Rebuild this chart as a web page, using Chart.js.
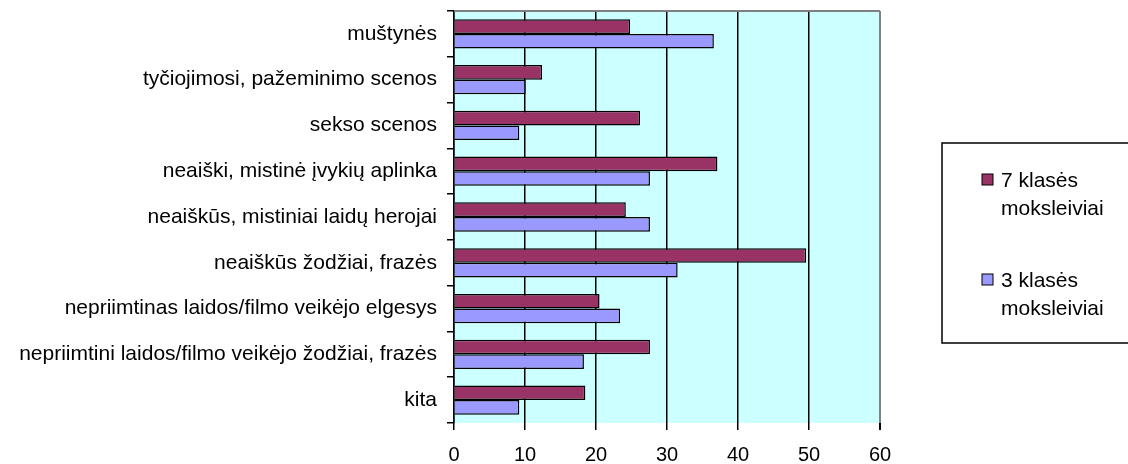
<!DOCTYPE html>
<html>
<head>
<meta charset="utf-8">
<script src="https://cdn.jsdelivr.net/npm/chart.js@4"></script>
<style>
  body { margin: 0; background: #fff; }
  #wrap { width: 1128px; height: 464px; }
</style>
</head>
<body>
<div id="wrap"><canvas id="barChart"></canvas></div>
<script>
const categories = [
  "muštynės",
  "tyčiojimosi, pažeminimo scenos",
  "sekso scenos",
  "neaiški, mistinė įvykių aplinka",
  "neaiškūs, mistiniai laidų herojai",
  "neaiškūs žodžiai, frazės",
  "nepriimtinas laidos/filmo veikėjo elgesys",
  "nepriimtini laidos/filmo veikėjo žodžiai, frazės",
  "kita",
];
const seriesNames = ["7 klasės moksleiviai", "3 klasės moksleiviai"];
const grade7 = [24.8, 12.4, 26.2, 37.1, 24.2, 49.6, 20.5, 27.6, 18.5];
const grade3 = [36.6, 10.1, 9.2, 27.6, 27.6, 31.5, 23.4, 18.3, 9.2];
const xTicks = [0, 10, 20, 30, 40, 50, 60];

const FONT = "'Liberation Sans', Arial, sans-serif";

// plot background + grey top edge like the old excel frame
const plotFrame = {
  id: "plotFrame",
  beforeDraw(chart) {
    const { ctx, chartArea: a } = chart;
    ctx.save();
    ctx.fillStyle = "#CCFFFF";
    ctx.fillRect(a.left, a.top, a.right - a.left, a.bottom - a.top);
    ctx.restore();
  },
  afterDraw(chart) {
    const { ctx, chartArea: a } = chart;
    ctx.save();
    ctx.strokeStyle = "#808080";
    ctx.lineWidth = 2;
    ctx.beginPath();
    ctx.moveTo(a.left, a.top);
    ctx.lineTo(a.right, a.top);
    ctx.stroke();
    ctx.restore();
  },
};

// boxed legend on the right, labels wrapped to two lines
const boxLegend = {
  id: "boxLegend",
  afterDraw(chart) {
    const ctx = chart.ctx;
    const left = 942, top = 143, bottom = 343;
    ctx.save();
    ctx.strokeStyle = "#000";
    ctx.lineWidth = 1.5;
    ctx.strokeRect(left, top, 1140 - left, bottom - top);
    ctx.font = "21px " + FONT;
    ctx.textBaseline = "middle";
    chart.data.datasets.forEach((ds, i) => {
      const y0 = top + 37 + i * 100;
      ctx.fillStyle = ds.backgroundColor;
      ctx.fillRect(left + 40, y0 - 6, 11, 11);
      ctx.strokeStyle = "#000";
      ctx.lineWidth = 1;
      ctx.strokeRect(left + 40, y0 - 6, 11, 11);
      ctx.fillStyle = "#000";
      const words = ds.label.split(" ");
      const lines = [words.slice(0, 2).join(" "), words.slice(2).join(" ")];
      lines.forEach((ln, j) => ctx.fillText(ln, left + 59, y0 + 1 + j * 28));
    });
    ctx.restore();
  },
};

new Chart(document.getElementById("barChart"), {
  type: "bar",
  data: {
    labels: categories,
    datasets: [
      {
        label: seriesNames[0],
        data: grade7,
        backgroundColor: "#993366",
        borderColor: "#000",
        borderWidth: 1.5,
      },
      {
        label: seriesNames[1],
        data: grade3,
        backgroundColor: "#9999FF",
        borderColor: "#000",
        borderWidth: 1.5,
      },
    ],
  },
  options: {
    indexAxis: "y",
    responsive: true,
    maintainAspectRatio: false,
    animation: false,
    layout: { padding: { top: 11, right: 248, left: 0, bottom: 0 } },
    datasets: { bar: { categoryPercentage: 0.64, barPercentage: 1 } },
    scales: {
      x: {
        min: 0,
        max: 60,
        afterBuildTicks(scale) {
          scale.ticks = xTicks.map((v) => ({ value: v }));
        },
        afterFit(scale) {
          scale.height = 41;
        },
        grid: {
          color: (c) => (c.tick && c.tick.value === 60 ? "#808080" : "#000"),
          lineWidth: (c) => (c.tick && c.tick.value === 60 ? 2 : 1.5),
          tickLength: 7,
          tickColor: "#000",
        },
        border: { display: false },
        ticks: {
          color: "#000",
          padding: 13,
          font: { family: FONT, size: 20 },
        },
      },
      y: {
        afterFit(scale) {
          scale.width = 454;
          scale.paddingTop = 0;
          scale.paddingBottom = 0;
        },
        grid: {
          offset: true,
          drawOnChartArea: false,
          tickLength: 7,
          tickColor: "#000",
          lineWidth: 1.5,
        },
        border: { color: "#000", width: 1.5 },
        ticks: {
          color: "#000",
          padding: 10,
          font: { family: FONT, size: 21 },
        },
      },
    },
    plugins: {
      legend: { display: false },
      tooltip: { enabled: false },
    },
  },
  plugins: [plotFrame, boxLegend],
});
</script>
</body>
</html>
